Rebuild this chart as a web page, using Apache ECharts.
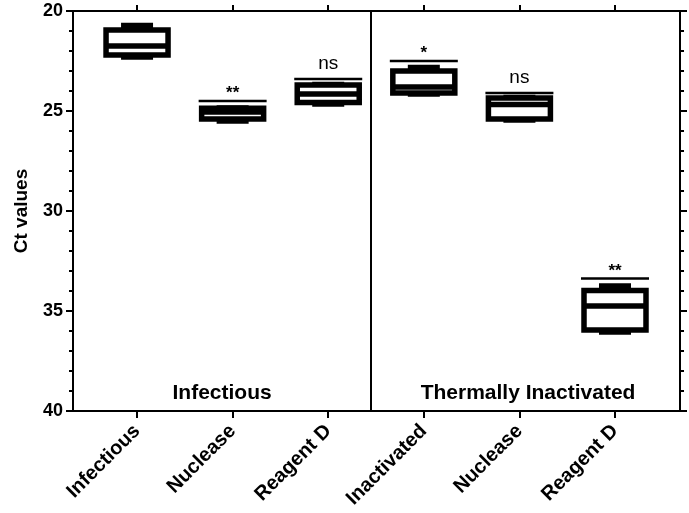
<!DOCTYPE html>
<html><head><meta charset="utf-8">
<script src="https://cdn.jsdelivr.net/npm/echarts@6/dist/echarts.min.js"></script>
<style>html,body{margin:0;padding:0;background:#fff}#c{width:689px;height:513px}</style>
</head><body><div id="c"></div>
<script>
// ---- data ----
const categories = ['Infectious', 'Nuclease', 'Reagent D', 'Inactivated', 'Nuclease', 'Reagent D'];
const boxMin    = [20.73, 24.85, 23.68, 22.83, 24.32, 33.75];
const boxQ1     = [20.95, 24.86, 23.70, 23.00, 24.35, 33.98];
const boxMedian = [21.75, 25.05, 24.15, 23.80, 24.68, 34.75];
const boxQ3     = [22.20, 25.40, 24.58, 24.10, 25.40, 35.95];
const boxMax    = [22.30, 25.50, 24.65, 24.15, 25.45, 36.05];
const sigLevel  = [null, 24.5, 23.4, 22.5, 24.1, 33.38];
const sigText   = ['', '**', 'ns', '*', 'ns', '**'];
const panelLabels  = ['Infectious', 'Thermally Inactivated'];
const panelCenters = [0.89, 4.09];
const panelLabelY  = 39.1;
const panelDivider = 2.45;
const yTicks = [20, 25, 30, 35, 40];
const yLabel = 'Ct values';

// ---- build ----
const FONT = "'Liberation Sans', Arial, sans-serif";
const catIdx = categories.map((_, i) => i);
const boxData = catIdx.map(i => [i, boxMin[i], boxQ1[i], boxMedian[i], boxQ3[i], boxMax[i]]);
const sigData = catIdx.filter(i => sigLevel[i] != null).map(i => [i, sigLevel[i], sigText[i]]);
const panelData = panelLabels.map((t, i) => [panelCenters[i], panelLabelY, t]);

function renderBox(params, api) {
  const x = api.value(0);
  const pMin = api.coord([x, api.value(1)]);
  const pQ1 = api.coord([x, api.value(2)]);
  const pMed = api.coord([x, api.value(3)]);
  const pQ3 = api.coord([x, api.value(4)]);
  const pMax = api.coord([x, api.value(5)]);
  const hw = 31, cw = 16, lw = 5.5, k = '#000';
  const cx = pQ1[0];
  return { type: 'group', children: [
    { type: 'line', shape: { x1: cx, y1: pMin[1], x2: cx, y2: pQ1[1] }, style: { stroke: k, lineWidth: 3 } },
    { type: 'line', shape: { x1: cx, y1: pQ3[1], x2: cx, y2: pMax[1] }, style: { stroke: k, lineWidth: 3 } },
    { type: 'line', shape: { x1: cx - cw, y1: pMin[1], x2: cx + cw, y2: pMin[1] }, style: { stroke: k, lineWidth: lw } },
    { type: 'line', shape: { x1: cx - cw, y1: pMax[1], x2: cx + cw, y2: pMax[1] }, style: { stroke: k, lineWidth: lw } },
    { type: 'rect', shape: { x: cx - hw, y: pQ1[1], width: 2 * hw, height: pQ3[1] - pQ1[1] },
      style: { fill: '#fff', stroke: k, lineWidth: lw } },
    { type: 'line', shape: { x1: cx - hw, y1: pMed[1], x2: cx + hw, y2: pMed[1] }, style: { stroke: k, lineWidth: lw } }
  ]};
}

function renderSig(params, api) {
  const p = api.coord([api.value(0), api.value(1)]);
  const t = sigData[params.dataIndex][2];
  const isStar = t.indexOf('*') >= 0;
  const hw = 34;
  return { type: 'group', children: [
    { type: 'line', shape: { x1: p[0] - hw, y1: p[1], x2: p[0] + hw, y2: p[1] }, style: { stroke: '#000', lineWidth: 2.5 } },
    { type: 'text', x: p[0], y: p[1] + (isStar ? 1 : -6),
      style: { text: t, textAlign: 'center', textVerticalAlign: 'bottom', fill: '#000',
        font: (isStar ? 'bold 17px ' : '19px ') + FONT } }
  ]};
}

function renderPanel(params, api) {
  const p = api.coord([api.value(0), api.value(1)]);
  return { type: 'text', x: p[0], y: p[1],
    style: { text: panelLabels[params.dataIndex], textAlign: 'center', textVerticalAlign: 'middle',
      fill: '#000', font: 'bold 21px ' + FONT } };
}

const xCommon = {
  type: 'value', min: -0.67, max: 5.68,
  splitLine: { show: false },
  axisLine: { show: true, onZero: false, lineStyle: { color: '#000', width: 2 } },
};
const yCommon = {
  type: 'value', min: 20, max: 40, interval: 5, inverse: true,
  splitLine: { show: false },
  axisLine: { show: true, onZero: false, lineStyle: { color: '#000', width: 2 } },
  axisTick: { show: true, inside: false, length: 7, lineStyle: { color: '#000', width: 2 } },
  minorTick: { show: true, splitNumber: 5, length: 4, lineStyle: { color: '#000', width: 2 } },
};

const chart = echarts.init(document.getElementById('c'), null, { renderer: 'canvas' });
chart.setOption({
  animation: false,
  backgroundColor: '#fff',
  grid: { left: 73, right: 9, top: 11, bottom: 102, containLabel: false, outerBoundsMode: 'none' },
  xAxis: [
    Object.assign({}, xCommon, {
      position: 'bottom',
      axisTick: { show: true, length: 7, customValues: catIdx, lineStyle: { color: '#000', width: 2 } },
      axisLabel: { show: true, customValues: catIdx, rotate: 45, margin: 17,
        formatter: v => categories[Math.round(v)] || '',
        color: '#000', fontWeight: 'bold', fontSize: 20, fontFamily: FONT }
    }),
    Object.assign({}, xCommon, {
      position: 'top',
      axisTick: { show: true, length: 6, customValues: catIdx, lineStyle: { color: '#000', width: 2 } },
      axisLabel: { show: false }
    })
  ],
  yAxis: [
    Object.assign({}, yCommon, {
      position: 'left',
      name: yLabel, nameLocation: 'middle', nameGap: 42,
      nameTextStyle: { color: '#000', fontWeight: 'bold', fontSize: 19, fontFamily: FONT },
      axisLabel: { show: true, margin: 10, color: '#000', fontWeight: 'bold', fontSize: 18, fontFamily: FONT,
        customValues: yTicks }
    }),
    Object.assign({}, yCommon, {
      position: 'right',
      axisLabel: { show: false }
    })
  ],
  series: [
    {
      type: 'custom', name: 'box', xAxisIndex: 0, yAxisIndex: 0,
      renderItem: renderBox, data: boxData,
      encode: { x: 0, y: [1, 2, 3, 4, 5] },
      markLine: {
        silent: true, symbol: ['none', 'none'], label: { show: false },
        lineStyle: { color: '#000', width: 2, type: 'solid' },
        data: [{ xAxis: panelDivider }]
      }
    },
    {
      type: 'custom', name: 'sig', xAxisIndex: 0, yAxisIndex: 0,
      renderItem: renderSig, data: sigData, encode: { x: 0, y: 1 }
    },
    {
      type: 'custom', name: 'panel', xAxisIndex: 0, yAxisIndex: 0,
      renderItem: renderPanel, data: panelData, encode: { x: 0, y: 1 }
    }
  ]
});
</script>
</body></html>
